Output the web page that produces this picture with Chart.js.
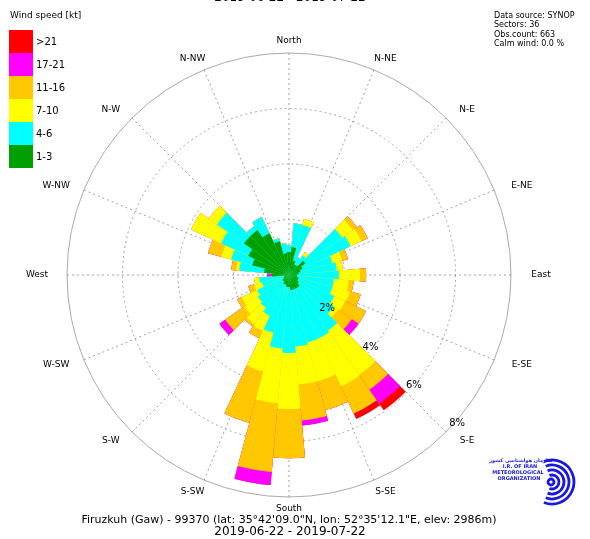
<!DOCTYPE html>
<html>
<head>
<meta charset="utf-8">
<script src="https://cdn.jsdelivr.net/npm/chart.js@4/dist/chart.umd.min.js"></script>
<style>
html, body { margin: 0; padding: 0; background: #fff; }
#wrap { width: 590px; height: 539px; }
</style>
</head>
<body>
<div id="wrap"><canvas id="rose" width="590" height="539"></canvas></div>
<script>
// Rosa dos ventos - Firuzkuh (Gaw), 36 setores de 10 graus
const sectors = ['0', '10', '20', '30', '40', '50', '60', '70', '80', '90', '100', '110',
    '120', '130', '140', '150', '160', '170', '180', '190', '200', '210', '220', '230',
    '240', '250', '260', '270', '280', '290', '300', '310', '320', '330', '340', '350'];

const speedClasses = ['1-3', '4-6', '7-10', '11-16', '17-21', '>21'];
const speedColors = ['#00a000', '#00ffff', '#ffff00', '#ffc800', '#ff00ff', '#ff0000'];

// frequência (%) por classe de velocidade, um valor por setor
const freq1to3 = [0.83, 1.01, 0.54, 0.43, 0.43, 0.72, 0.54, 0.43, 0.36, 0.29, 0.29, 0.36,
    0.36, 0.43, 0.54, 0.54, 0.54, 0.54, 0.43, 0.43, 0.36, 0.36, 0.29, 0.29,
    0.22, 0.18, 0.18, 0.61, 0.90, 1.37, 1.62, 1.98, 1.98, 1.66, 1.26, 0.79];
const freq4to6 = [0.25, 0.86, 1.33, 0.29, 0.43, 1.62, 1.91, 1.19, 1.37, 1.51, 1.33, 1.26,
    1.44, 1.55, 1.91, 1.98, 1.98, 2.05, 2.38, 2.23, 1.80, 1.26, 1.15, 1.08,
    1.05, 0.83, 0.90, 0.00, 0.90, 0.79, 1.08, 1.19, 0.18, 0.65, 0.11, 0.36];
const freq7to10 = [0, 0, 0.22, 0, 0.14, 0.47, 0.43, 0.36, 0.22, 0.76, 0.54, 0.65,
    0.43, 0.18, 1.95, 1.91, 1.44, 1.37, 2.02, 1.98, 1.44, 0.61, 0.72, 0.61,
    0.61, 0.29, 0.18, 0, 0.11, 0.36, 1.19, 0.36, 0, 0, 0, 0];
const freq11to16 = [0, 0, 0, 0, 0, 0.18, 0.25, 0.22, 0, 0.22, 0.18, 0.40,
    0.83, 0.61, 0.65, 1.08, 1.08, 1.30, 1.77, 2.49, 1.91, 0.29, 0.11, 0.83,
    0.18, 0.22, 0, 0, 0.18, 0.50, 0, 0, 0, 0, 0, 0];
const freq17to21 = [0, 0, 0, 0, 0, 0, 0, 0, 0, 0, 0, 0,
    0, 0.29, 0.61, 0, 0, 0.18, 0, 0.47, 0, 0, 0, 0.25,
    0, 0, 0, 0.18, 0, 0, 0, 0, 0, 0, 0, 0];
const freqOver21 = [0, 0, 0, 0, 0, 0, 0, 0, 0, 0, 0, 0,
    0, 0, 0.29, 0.22, 0, 0, 0, 0, 0, 0, 0, 0,
    0, 0, 0, 0, 0, 0, 0, 0, 0, 0, 0, 0];

const ringTicks = [2, 4, 6, 8];
const directions = ['North', 'N-NE', 'N-E', 'E-NE', 'East', 'E-SE', 'S-E', 'S-SE',
    'South', 'S-SW', 'S-W', 'W-SW', 'West', 'W-NW', 'N-W', 'N-NW'];
const infoLines = ['Data source: SYNOP', 'Sectors: 36', 'Obs.count: 663', 'Calm wind: 0.0 %'];
const stationLine = 'Firuzkuh (Gaw) - 99370 (lat: 35°42\'09.0"N, lon: 52°35\'12.1"E, elev: 2986m)';
const periodLine = '2019-06-22 - 2019-07-22';

// empilhar: cada dataset guarda o valor acumulado, o menor fica por cima
const classSeries = [freq1to3, freq4to6, freq7to10, freq11to16, freq17to21, freqOver21];
let running = sectors.map(() => 0);
const datasets = classSeries.map((vals, k) => {
    running = running.map((r, i) => r + vals[i]);
    return {
        label: speedClasses[k],
        data: running.slice(),
        backgroundColor: speedColors[k],
        borderWidth: 0
    };
});

const FONT = 'DejaVu Sans';

function drawLogo(ctx) {
    const cx = 552, cy = 482;
    ctx.save();
    ctx.strokeStyle = '#1818e0';
    ctx.lineWidth = 2.8;
    [22, 17, 12, 7].forEach(r => {
        ctx.beginPath();
        ctx.arc(cx, cy, r, -Math.PI * 0.62, Math.PI * 0.62);
        ctx.stroke();
    });
    ctx.beginPath();
    ctx.arc(cx - 1, cy, 3, 0, Math.PI * 2);
    ctx.stroke();
    ctx.fillStyle = '#1818e0';
    ctx.textAlign = 'center';
    ctx.textBaseline = 'middle';
    ctx.font = 'bold 5px ' + FONT;
    ctx.fillText('سازمان هواشناسی کشور', 521, 461);
    ctx.fillText('I.R. OF IRAN', 520, 467);
    ctx.fillText('METEOROLOGICAL', 518, 473);
    ctx.fillText('ORGANIZATION', 519, 479);
    ctx.restore();
}

const roseDecor = {
    id: 'roseDecor',
    beforeDatasetsDraw(chart) {
        const ctx = chart.ctx;
        const sc = chart.scales.r;
        const cx = sc.xCenter, cy = sc.yCenter;
        const outer = sc.getDistanceFromCenterForValue(ringTicks[ringTicks.length - 1]);
        ctx.save();
        // anéis
        ringTicks.forEach((v, i) => {
            const rad = sc.getDistanceFromCenterForValue(v);
            const last = i === ringTicks.length - 1;
            ctx.beginPath();
            ctx.setLineDash(last ? [] : [2, 3]);
            ctx.strokeStyle = last ? '#aaaaaa' : '#a0a0a0';
            ctx.lineWidth = 1;
            ctx.arc(cx, cy, rad, 0, Math.PI * 2);
            ctx.stroke();
        });
        // linhas radiais (16 direções)
        ctx.setLineDash([2, 3]);
        ctx.strokeStyle = '#a0a0a0';
        directions.forEach((d, k) => {
            const a = k * Math.PI / 8;
            ctx.beginPath();
            ctx.moveTo(cx, cy);
            ctx.lineTo(cx + outer * Math.sin(a), cy - outer * Math.cos(a));
            ctx.stroke();
        });
        ctx.restore();
    },
    afterDraw(chart) {
        const ctx = chart.ctx;
        const sc = chart.scales.r;
        const cx = sc.xCenter, cy = sc.yCenter;
        const outer = sc.getDistanceFromCenterForValue(ringTicks[ringTicks.length - 1]);
        ctx.save();
        ctx.fillStyle = '#000';
        ctx.textAlign = 'center';
        ctx.textBaseline = 'middle';

        // rótulos dos anéis
        ctx.font = '10px ' + FONT;
        ringTicks.forEach(v => {
            const rad = sc.getDistanceFromCenterForValue(v) * 1.043 - 7;
            const a = 131.5 * Math.PI / 180;
            ctx.fillText(v + '%', cx + rad * Math.sin(a), cy - rad * Math.cos(a));
        });

        // direções
        ctx.font = '9px ' + FONT;
        directions.forEach((d, k) => {
            const a = k * Math.PI / 8;
            ctx.fillText(d, cx + (outer + 30) * Math.sin(a), cy - (outer + 12) * Math.cos(a));
        });

        // legenda
        ctx.textAlign = 'left';
        ctx.font = '9px ' + FONT;
        ctx.fillText('Wind speed [kt]', 10, 16);
        ctx.font = '10px ' + FONT;
        for (let k = speedClasses.length - 1, row = 0; k >= 0; k--, row++) {
            const y = 30 + row * 23;
            ctx.fillStyle = speedColors[k];
            ctx.fillRect(9, y, 24, 23);
            ctx.fillStyle = '#000';
            ctx.fillText(speedClasses[k], 36, y + 12);
        }

        // informações
        ctx.font = '8px ' + FONT;
        infoLines.forEach((t, i) => ctx.fillText(t, 494, 16 + i * 9.3));

        // rodapé
        ctx.textAlign = 'center';
        ctx.font = '11px ' + FONT;
        ctx.fillText(stationLine, 289, 520);
        ctx.font = '12px ' + FONT;
        ctx.fillText(periodLine, 290, 532);
        ctx.textBaseline = 'alphabetic';
        ctx.fillText(periodLine, 290, 1);
        ctx.restore();

        drawLogo(ctx);
    }
};

const chart = new Chart(document.getElementById('rose').getContext('2d'), {
    type: 'polarArea',
    data: {
        labels: sectors,
        datasets: datasets
    },
    options: {
        responsive: false,
        animation: false,
        layout: {
            padding: { left: 67, right: 79, top: 53, bottom: 42 }
        },
        plugins: {
            legend: { display: false },
            tooltip: { enabled: false }
        },
        scales: {
            r: {
                min: 0,
                max: 8,
                startAngle: -5,
                ticks: { display: false, stepSize: 2 },
                grid: { display: false },
                angleLines: { display: false },
                pointLabels: { display: false }
            }
        }
    },
    plugins: [roseDecor]
});
</script>
</body>
</html>
